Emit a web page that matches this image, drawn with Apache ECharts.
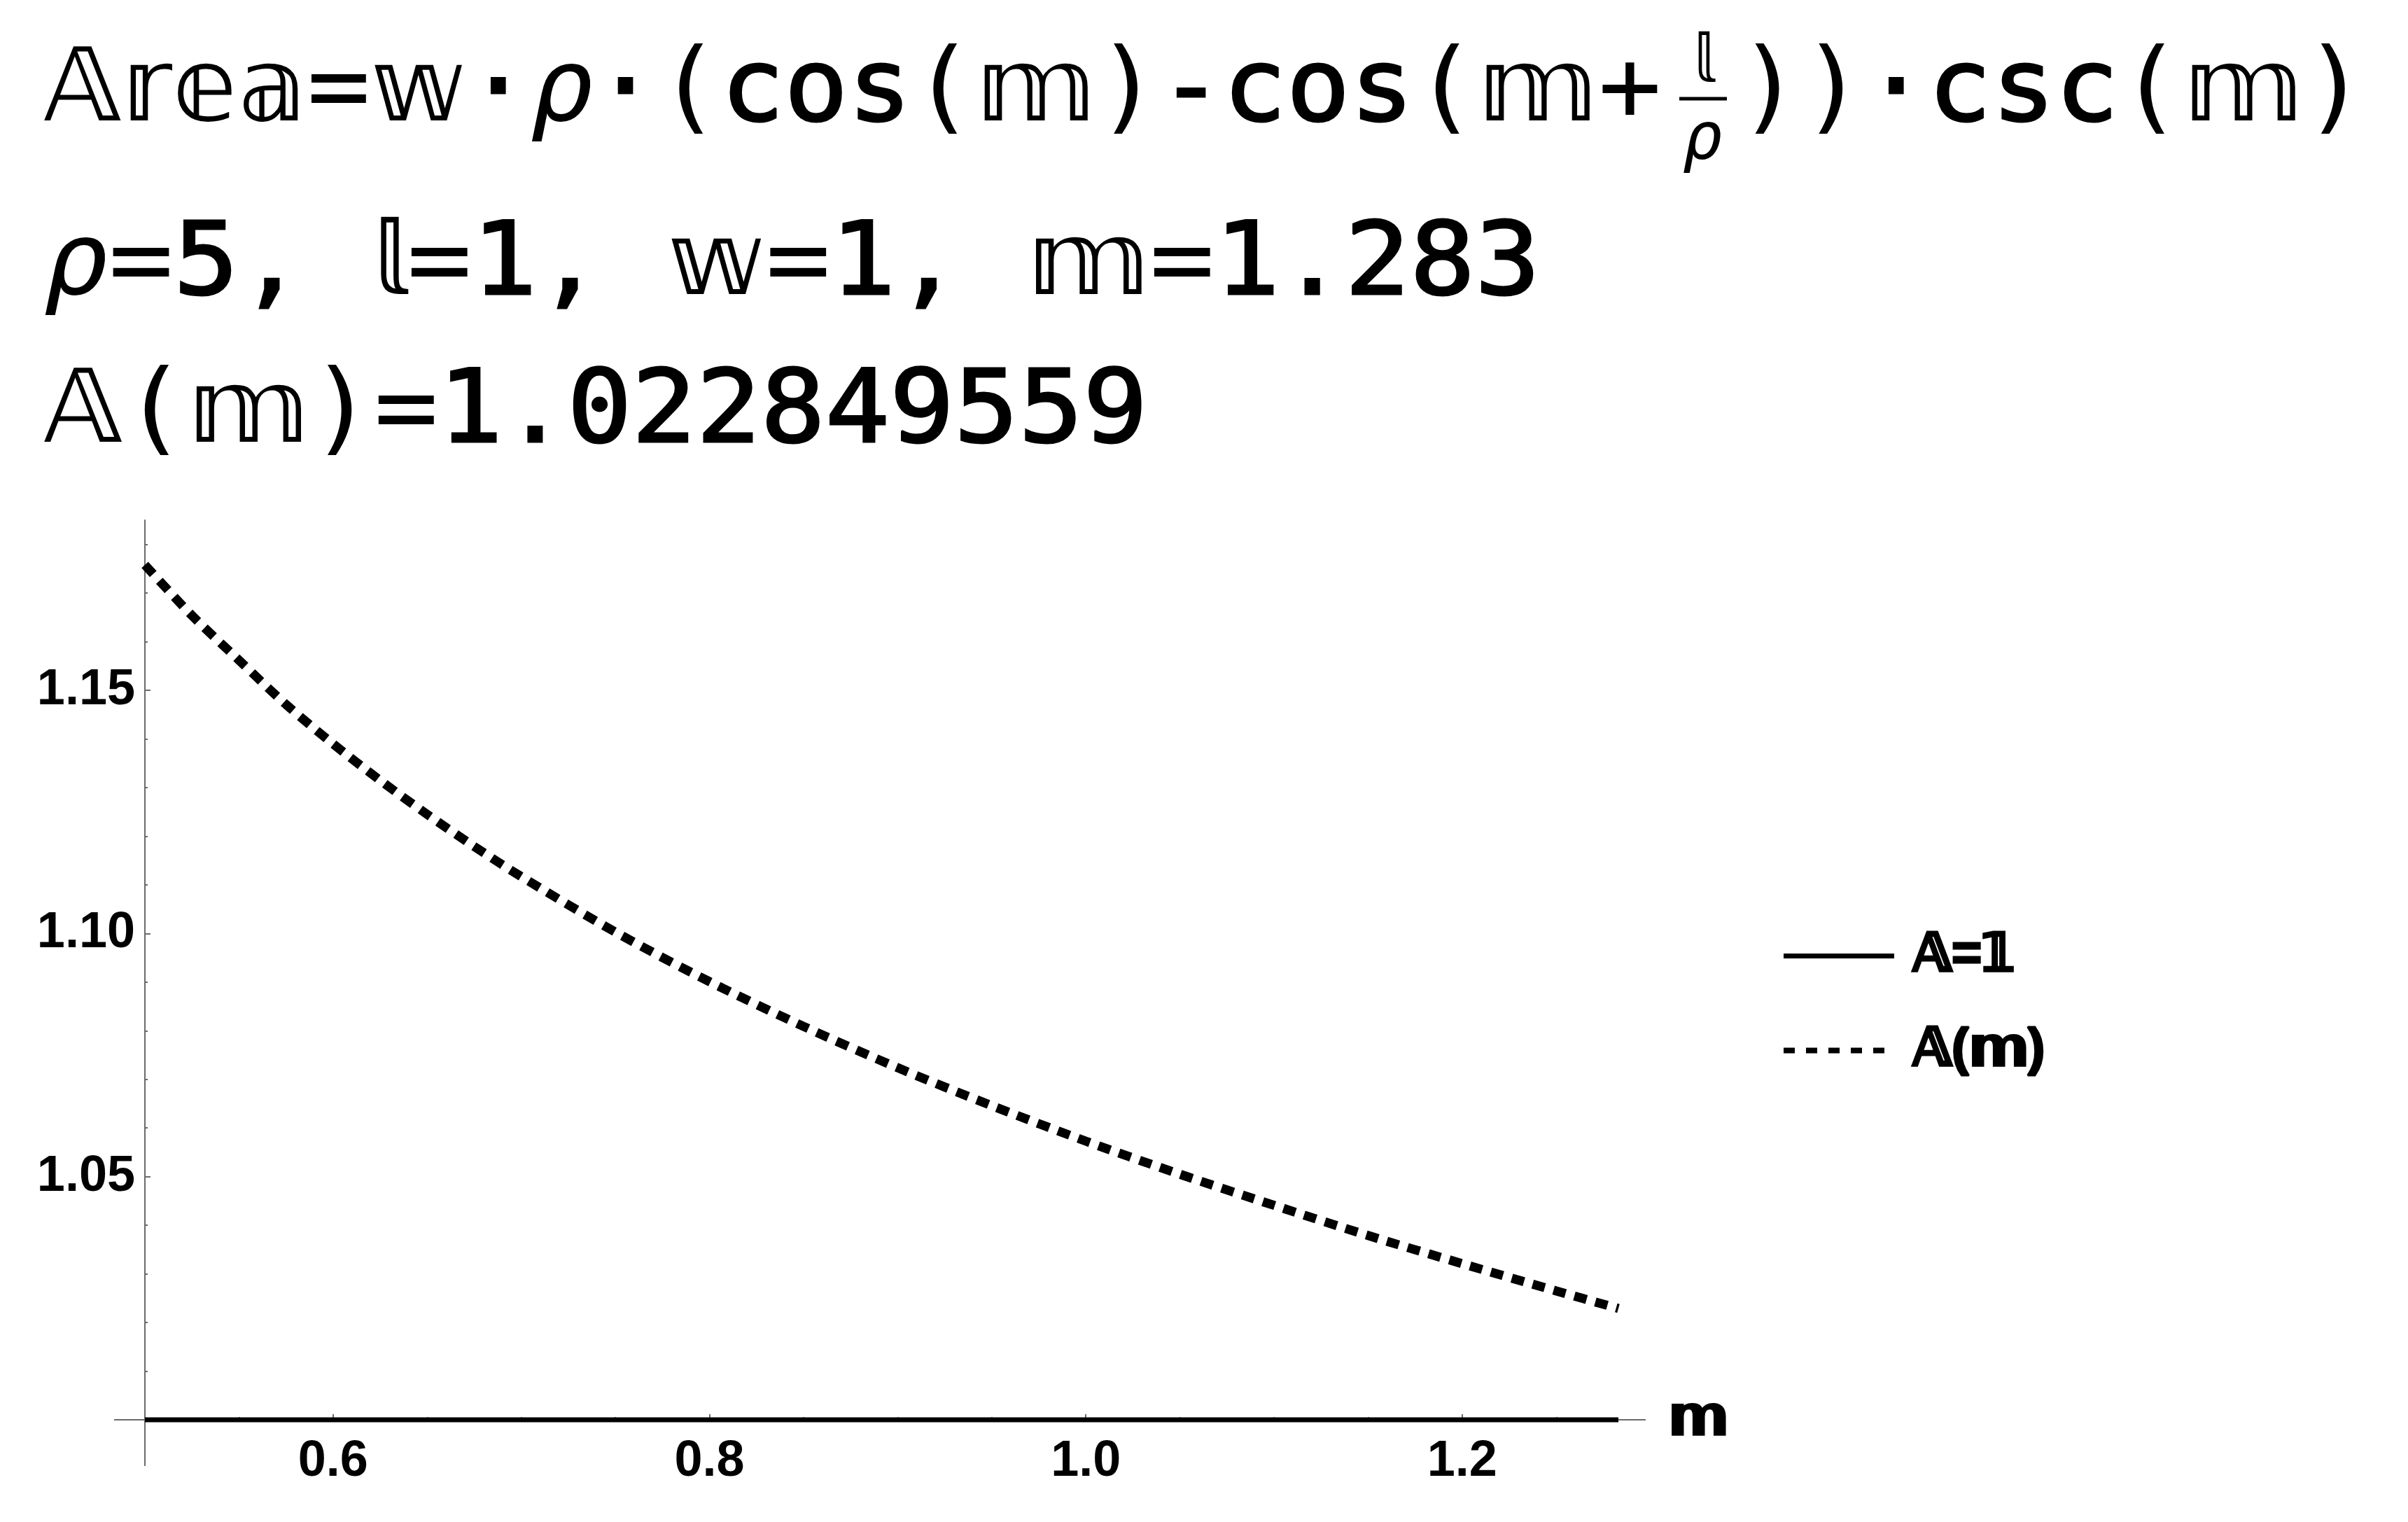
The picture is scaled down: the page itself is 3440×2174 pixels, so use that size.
<!DOCTYPE html>
<html><head><meta charset="utf-8">
<script src="https://cdn.jsdelivr.net/npm/echarts@6/dist/echarts.min.js"></script>
<style>html,body{margin:0;padding:0;background:#fff}#c{width:3440px;height:2174px}</style>
</head><body><div id="c"></div>
<script>
// ---- data ----
const mValues = [0.5, 0.525, 0.55, 0.575, 0.6, 0.625, 0.65, 0.675, 0.7, 0.75, 0.8, 0.85, 0.9, 0.95, 1.0, 1.05, 1.1, 1.15, 1.2, 1.25, 1.283];
const areaValues = [1.1758, 1.1654, 1.1562, 1.1471, 1.1390, 1.1315, 1.1245, 1.1179, 1.1117, 1.1003, 1.0901, 1.0809, 1.0724, 1.0646, 1.0573, 1.0505, 1.0441, 1.0379, 1.0321, 1.0265, 1.0229];
const baselineM = [0.5, 1.283];
const baselineA = [1, 1];
const xMajorTicks = [0.6, 0.8, 1.0, 1.2];
const xMinorTicks = [0.55, 0.65, 0.7, 0.75, 0.85, 0.9, 0.95, 1.05, 1.1, 1.15, 1.25];
const yMajorTicks = [1.05, 1.10, 1.15];
const yMinorTicks = [1.01, 1.02, 1.03, 1.04, 1.06, 1.07, 1.08, 1.09, 1.11, 1.12, 1.13, 1.14, 1.16, 1.17, 1.18];
const seriesNames = ['𝔸=𝟙', '𝔸(𝕞)'];
const xName = '𝕞';
const header1a = '𝔸𝕣𝕖𝕒=𝕨{b|·}{it|ρ}{b|·}({b|cos}(𝕞){b|-cos}(𝕞+';
const header1b = ')){b|·csc}(𝕞)';
const fracNum = '𝕝';
const fracDen = 'ρ';
const header2 = '{it|ρ}={b|5,} 𝕝={b|1,} 𝕨={b|1,} 𝕞={b|1.283}';
const header3 = '𝔸(𝕞)={b|1.022849559}';

const MONO = '"DejaVu Sans Mono", monospace';
const SANS = '"Liberation Sans", Arial, sans-serif';
const AX = '#6b6b6b';

function headerText(id, text, x, y, sx, size) {
  return {
    type: 'text', id: id, x: x, y: y, scaleX: sx, z: 10,
    style: {
      text: text, fontSize: size, fontFamily: MONO, fill: '#000',
      align: 'left', verticalAlign: 'middle',
      rich: {
        it: { fontSize: size, fontFamily: MONO, fontStyle: 'italic', fill: '#000' },
        b: { fontSize: size, fontFamily: MONO, fill: '#000', stroke: '#000', lineWidth: 3 }
      }
    }
  };
}

const chart = echarts.init(document.getElementById('c'), null, { renderer: 'canvas' });
const option = {
  backgroundColor: '#fff',
  animation: false,
  color: ['#000', '#000'],
  grid: { left: 207, right: 1128, top: 743, bottom: 146, containLabel: false },
  xAxis: [
    {
      type: 'value', min: 0.5, max: 1.283, position: 'bottom',
      axisLine: { show: true, onZero: false, lineStyle: { color: AX, width: 2 } },
      axisTick: { show: true, inside: true, length: 8, customValues: xMajorTicks, lineStyle: { color: AX, width: 2 } },
      axisLabel: { show: true, customValues: xMajorTicks, formatter: v => v.toFixed(1), margin: 24,
        fontSize: 72, fontWeight: 'bold', fontFamily: SANS, color: '#000' },
      splitLine: { show: false },
      name: xName, nameLocation: 'end', nameGap: 72,
      nameTextStyle: { fontSize: 74, fontWeight: 'bold', fontFamily: SANS, color: '#000', verticalAlign: 'middle',
        textBorderColor: '#000', textBorderWidth: 3 }
    },
    {
      type: 'value', min: 0.5, max: 1.283, position: 'bottom',
      axisLine: { show: false, onZero: false },
      axisTick: { show: true, inside: true, length: 4, customValues: xMinorTicks, lineStyle: { color: AX, width: 2 } },
      axisLabel: { show: false }, splitLine: { show: false }
    }
  ],
  yAxis: [
    {
      type: 'value', min: 1.0, max: 1.185, position: 'left',
      axisLine: { show: true, onZero: false, lineStyle: { color: AX, width: 2 } },
      axisTick: { show: true, inside: true, length: 8, customValues: yMajorTicks, lineStyle: { color: AX, width: 2 } },
      axisLabel: { show: true, customValues: yMajorTicks, formatter: v => v.toFixed(2), margin: 14,
        fontSize: 72, fontWeight: 'bold', fontFamily: SANS, color: '#000' },
      splitLine: { show: false }
    },
    {
      type: 'value', min: 1.0, max: 1.185, position: 'left',
      axisLine: { show: false, onZero: false },
      axisTick: { show: true, inside: true, length: 4, customValues: yMinorTicks, lineStyle: { color: AX, width: 2 } },
      axisLabel: { show: false }, splitLine: { show: false }
    }
  ],
  legend: {
    orient: 'vertical', left: 2539, top: 1322, itemWidth: 158, itemHeight: 2, itemGap: 58,
    selectedMode: false,
    itemStyle: { opacity: 0 },
    data: [
      { name: seriesNames[0], itemStyle: { opacity: 0 }, lineStyle: { width: 7, type: 'solid', color: '#000' } },
      { name: seriesNames[1], itemStyle: { opacity: 0 }, lineStyle: { width: 8, type: [16, 16], color: '#000', cap: 'butt' } }
    ],
    textStyle: { fontSize: 74, lineHeight: 74, fontWeight: 'bold', fontFamily: SANS, color: '#000', padding: [0, 0, 0, 22],
      textBorderColor: '#000', textBorderWidth: 3 }
  },
  series: [
    {
      type: 'line', name: seriesNames[0], xAxisIndex: 0, yAxisIndex: 0,
      data: baselineM.map((m, i) => [m, baselineA[i]]),
      symbol: 'none', showSymbol: false, clip: false, z: 3,
      itemStyle: { color: '#000' },
      lineStyle: { color: '#000', width: 7, type: 'solid', cap: 'butt' }
    },
    {
      type: 'line', name: seriesNames[1], xAxisIndex: 0, yAxisIndex: 0,
      data: mValues.map((m, i) => [m, areaValues[i]]),
      symbol: 'none', showSymbol: false, clip: false, smooth: 0.3, z: 4,
      itemStyle: { color: '#000' },
      lineStyle: { color: '#000', width: 13, type: [18, 13], cap: 'butt' }
    }
  ],
  graphic: [
    headerText('h1a', header1a, 62, 134, 1.04, 145),
    { type: 'text', id: 'fn', x: 2432, y: 92, z: 10,
      style: { text: fracNum, fontSize: 95, fontFamily: MONO, fill: '#000', align: 'center', verticalAlign: 'middle' } },
    { type: 'line', id: 'fb', z: 10, shape: { x1: 2399, y1: 141, x2: 2467, y2: 141 }, style: { stroke: '#000', lineWidth: 5 } },
    { type: 'text', id: 'fd', x: 2432, y: 202, z: 10,
      style: { text: fracDen, fontSize: 95, fontFamily: MONO, fontStyle: 'italic', fill: '#000', align: 'center', verticalAlign: 'middle' } },
    headerText('h1b', header1b, 2482, 134, 1.04, 145),
    headerText('h2', header2, 62, 382, 1.065, 145),
    headerText('h3', header3, 62, 593, 1.055, 145)
  ]
};
chart.setOption(option);

// axis line extensions beyond the plot range (Mathematica style), placed via the chart's own scales
const o = chart.convertToPixel({ xAxisIndex: 0, yAxisIndex: 0 }, [0.5, 1.0]);
const e = chart.convertToPixel({ xAxisIndex: 0, yAxisIndex: 0 }, [1.283, 1.0]);
chart.setOption({
  graphic: [
    { type: 'line', id: 'xl', z: 1, shape: { x1: o[0] - 44, y1: o[1], x2: o[0], y2: o[1] }, style: { stroke: AX, lineWidth: 2 } },
    { type: 'line', id: 'xr', z: 1, shape: { x1: e[0], y1: e[1], x2: e[0] + 39, y2: e[1] }, style: { stroke: AX, lineWidth: 2 } },
    { type: 'line', id: 'yb', z: 1, shape: { x1: o[0], y1: o[1], x2: o[0], y2: o[1] + 66 }, style: { stroke: AX, lineWidth: 2 } }
  ]
});
</script></body></html>
